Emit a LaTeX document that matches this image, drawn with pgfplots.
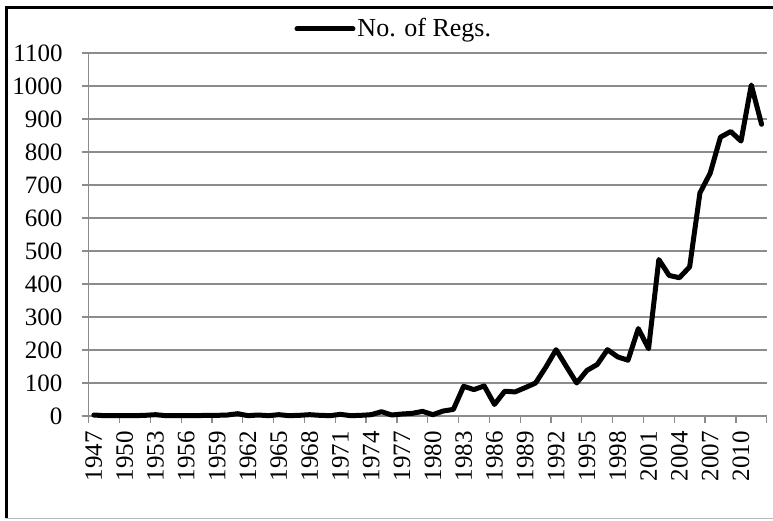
\documentclass[border=0pt]{standalone}
\usepackage{pgfplots}
\pgfplotsset{compat=1.18}
\usepackage{fontspec}
\setmainfont{Liberation Serif}
\definecolor{gridgray}{RGB}{140,140,140}
\begin{document}
\fontsize{25}{29}\selectfont
\begin{tikzpicture}
\useasboundingbox (-88.7pt,-105pt) rectangle (684.3pt,416pt);
\begin{axis}[
  scale only axis, width=678pt, height=363pt,
  at={(0pt,0pt)}, anchor=south west,
  xmin=1946.5, xmax=2012.5, ymin=0, ymax=1100,
  axis x line*=bottom, axis y line*=left,
  axis line style={-, draw=gridgray, line width=1.3pt},
  ymajorgrids, grid style={draw=gridgray, line width=1.3pt},
  ytick={0,100,...,1100},
  xtick={1946.5,1949.5,...,2012.6},
  xticklabels={},
  extra x ticks={1947,1950,...,2010},
  extra x tick labels={1947,1950,1953,1956,1959,1962,1965,1968,1971,1974,1977,1980,1983,1986,1989,1992,1995,1998,2001,2004,2007,2010},
  extra x tick style={major tick length=0pt, grid=none},
  tick align=outside, major tick length=7pt,
  tick style={draw=gridgray, line width=1.3pt},
  xticklabel style={yshift=-15pt, rotate=90, anchor=east, inner sep=0pt, font=\fontsize{25}{29}\selectfont},
  yticklabel style={inner sep=0pt, xshift=-19pt, font=\fontsize{25}{29}\selectfont},
  /pgf/number format/assume math mode=true,
  /pgf/number format/1000 sep={},
  clip=false,
  legend style={at={(0.45,1)}, anchor=center, yshift=24pt, draw=none, fill=none,
    font=\fontsize{26}{30}\selectfont, inner sep=0pt},
  legend image code/.code={\draw[#1, line cap=round] (0pt,0pt) -- (56pt,0pt);},
]
\addplot[black, line width=5pt, line join=round, line cap=round] coordinates {
(1947,3) (1948,1) (1949,1) (1950,1) (1951,1) (1952,2) (1953,4) (1954,1) (1955,1) (1956,1)
(1957,1) (1958,2) (1959,2) (1960,3) (1961,7) (1962,1) (1963,3) (1964,1) (1965,4) (1966,1)
(1967,2) (1968,4) (1969,2) (1970,1) (1971,5) (1972,1) (1973,2) (1974,4) (1975,13) (1976,3)
(1977,6) (1978,8) (1979,14) (1980,4) (1981,15) (1982,20) (1983,90) (1984,80) (1985,91) (1986,35)
(1987,75) (1988,73) (1989,86) (1990,100) (1991,148) (1992,201) (1993,150) (1994,100) (1995,138) (1996,156)
(1997,201) (1998,179) (1999,169) (2000,265) (2001,204) (2002,474) (2003,426) (2004,419) (2005,452) (2006,676)
(2007,736) (2008,845) (2009,862) (2010,833) (2011,1003) (2012,884)
};
\addlegendentry{No. of Regs.}
\end{axis}
\draw[black, line width=3.3pt] (-82.2pt,-102.5pt) -- (-82.2pt,408.5pt) -- (684.3pt,408.5pt);
\draw[gridgray!60, line width=1pt] (-82.2pt,-102.5pt) -- (684.3pt,-102.5pt);
\end{tikzpicture}
\end{document}
